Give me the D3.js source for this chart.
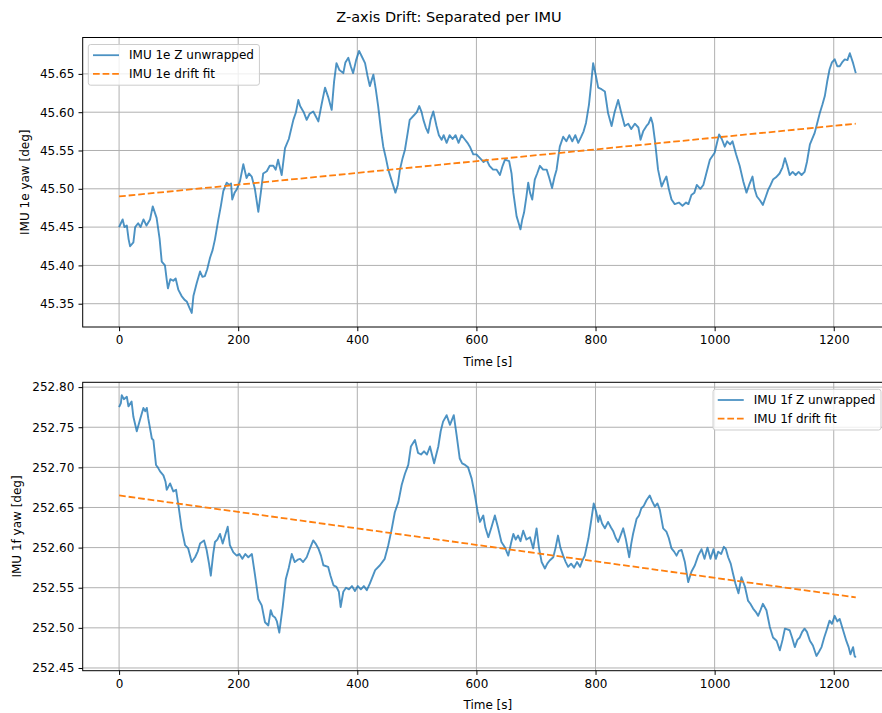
<!DOCTYPE html>
<html>
<head>
<meta charset="utf-8">
<script src="https://cdn.jsdelivr.net/npm/d3@7"></script>
<style>
  body { margin: 0; background: #fff; }
  svg { font-family: "DejaVu Sans", sans-serif; display: block; }
</style>
</head>
<body>
<div id="chart"></div>
<script>
// IMU 1e
const time1e = [0,3,6,9,13,16,18.5,24,27,32,36,41,46,52,56.5,63,68,71.6,77,80,82,86,91,95,99.6,105,110,113.6,118,122,124.8,130.4,136,140,144,148,152.7,157,161,166.7,171,175,180.7,185,188,190,194,197.5,203,208.6,214,218,222.7,228,233.8,238,242,248,253,259,263,267,273,278.6,285,292.6,297,301,304,310,315,320,326,330,334.6,340,345.8,351,357,361,365,370,376.5,380,384.9,389,393,398,403,408,413,417,421,427,431,435,440,443.6,448,452,458,464,468,471.6,476,480,485,488,494,500,504,508,511,515,519,523,527.6,533,537,541.6,545,550,555,560,565,570,575,580,585,589,594.7,600,606,612,617,622,628,634,639.5,644,648,655,659,662,667.5,671,674,677,680,684,687,690,693.7,698,702,706.6,712,718,722,727,731,734.6,740,745.7,751,756,761,766,771,776,780,784,789,793,796,800,804.5,810,815.7,821,827,832,838,843,849,855,860,866,872,875.6,880,885.6,889,893,896,899.6,905,911,915,919,923,927.6,933,940,946,952,956,961,966,970,976,981,986,992,1000,1004,1007.5,1012,1017,1021,1026,1030,1036,1042,1048,1053.5,1058,1063.6,1067,1071,1076,1081,1086,1090,1094,1098,1103,1109,1114,1118,1122,1126,1131,1136,1141,1146,1151,1155,1160,1168,1172,1176.6,1181,1185,1189,1193,1197,1201.6,1206,1210,1214,1218.5,1223,1227,1232.5,1237]
const yaw1e = [45.450,45.455,45.460,45.450,45.452,45.434,45.425,45.430,45.450,45.455,45.450,45.460,45.452,45.460,45.477,45.462,45.435,45.405,45.400,45.381,45.370,45.382,45.380,45.383,45.368,45.360,45.355,45.353,45.345,45.338,45.360,45.377,45.392,45.385,45.386,45.395,45.410,45.420,45.434,45.460,45.478,45.497,45.508,45.505,45.507,45.486,45.495,45.499,45.510,45.532,45.514,45.520,45.516,45.500,45.470,45.495,45.520,45.523,45.530,45.530,45.525,45.538,45.518,45.553,45.565,45.590,45.600,45.616,45.608,45.600,45.590,45.598,45.601,45.595,45.588,45.610,45.632,45.620,45.603,45.640,45.664,45.655,45.651,45.665,45.671,45.660,45.651,45.668,45.680,45.672,45.664,45.648,45.634,45.649,45.630,45.608,45.575,45.555,45.540,45.525,45.510,45.495,45.505,45.525,45.540,45.551,45.575,45.590,45.595,45.600,45.608,45.600,45.590,45.580,45.573,45.590,45.601,45.582,45.570,45.564,45.570,45.560,45.570,45.565,45.570,45.560,45.570,45.565,45.560,45.555,45.545,45.545,45.540,45.535,45.538,45.530,45.525,45.525,45.518,45.530,45.538,45.536,45.520,45.495,45.464,45.455,45.447,45.460,45.469,45.490,45.508,45.495,45.486,45.512,45.520,45.530,45.525,45.525,45.515,45.501,45.515,45.525,45.555,45.568,45.562,45.570,45.562,45.570,45.560,45.568,45.575,45.586,45.610,45.640,45.664,45.650,45.632,45.630,45.627,45.599,45.582,45.600,45.616,45.600,45.582,45.585,45.578,45.585,45.580,45.564,45.575,45.582,45.585,45.593,45.585,45.564,45.525,45.503,45.510,45.516,45.500,45.486,45.480,45.482,45.478,45.482,45.480,45.492,45.495,45.505,45.500,45.505,45.520,45.538,45.547,45.560,45.571,45.565,45.555,45.562,45.558,45.562,45.545,45.530,45.510,45.495,45.505,45.516,45.500,45.490,45.485,45.479,45.490,45.499,45.505,45.512,45.515,45.520,45.528,45.540,45.530,45.518,45.522,45.518,45.522,45.518,45.522,45.535,45.558,45.573,45.585,45.599,45.610,45.621,45.640,45.656,45.665,45.669,45.660,45.660,45.665,45.669,45.668,45.677,45.664,45.651]

// IMU 1f
const time1f = [0,3,4.5,8,13,15.7,21,24,29.7,35,40.8,44,46.5,49,55,57.6,62,65,68.8,74.4,78,80,85.6,91,95.7,99.6,105,110.8,116,122,127.6,132,136,142.7,147,151,154,158,161,165,169.5,174,178,182.4,186,191.9,197.5,202,207,212,217,223,228,233.8,239.5,245,250.6,254.6,258,261.8,265,269,274.7,280,285,290,295,300,304,309,315,320,326,330,334.6,339,343,351,355,360,365,369,372,376.5,381,386,391,396,401,406,411,416,421,430,438,446,452,458,463,469,474.5,480,485.6,490,496.8,502,507,512,517,522,529,536,540,544,550,555.6,562,566.8,572,576,581,586,592,597.5,602,606,611.5,615,620,625.5,631,636.6,642,648,653.5,658,662,666,670,674,678.6,684,690,695.4,701,705,709.5,715,719,723,729,733,737,741,745.6,750,754,759,764,769,774,778,782,788,793,797,801,804.5,807,811,815.7,821,826,830,834,838,842,846.5,851,856.6,860,863,869,873,877,881,885.6,891,895,899.6,904,908,913.6,919,923,927.6,932,936,940,944.5,950,955.6,961,966.8,972.4,978,983,988,993,998,1002,1006,1011,1015.5,1019,1022.7,1027,1031,1035,1040,1045,1051,1056,1060,1064.6,1069,1073,1077,1081,1087,1092.7,1098,1104,1109.5,1114,1118,1122,1126,1130,1134.6,1139,1143,1147,1151,1155,1160,1165,1171,1175,1179.5,1184,1188,1193,1197,1201.6,1206,1210,1215.7,1221,1225,1228,1232.5,1235,1237]
const yaw1f = [252.775,252.780,252.790,252.785,252.788,252.776,252.782,252.763,252.745,252.759,252.774,252.770,252.774,252.761,252.736,252.734,252.703,252.700,252.695,252.690,252.682,252.672,252.680,252.670,252.672,252.653,252.624,252.603,252.599,252.582,252.588,252.595,252.605,252.609,252.597,252.580,252.565,252.592,252.607,252.610,252.617,252.605,252.615,252.626,252.603,252.594,252.590,252.592,252.586,252.592,252.588,252.592,252.567,252.536,252.528,252.507,252.503,252.522,252.515,252.513,252.508,252.494,252.526,252.561,252.575,252.592,252.582,252.585,252.586,252.582,252.588,252.598,252.609,252.605,252.599,252.590,252.578,252.576,252.565,252.553,252.551,252.545,252.526,252.545,252.550,252.548,252.552,252.546,252.552,252.548,252.552,252.547,252.555,252.572,252.578,252.586,252.603,252.624,252.644,252.657,252.678,252.692,252.703,252.726,252.734,252.718,252.716,252.720,252.716,252.726,252.705,252.726,252.745,252.757,252.765,252.753,252.765,252.740,252.711,252.705,252.703,252.700,252.686,252.665,252.645,252.632,252.640,252.625,252.613,252.626,252.640,252.624,252.607,252.600,252.590,252.605,252.617,252.610,252.615,252.608,252.621,252.610,252.613,252.599,252.624,252.600,252.582,252.574,252.580,252.584,252.588,252.600,252.615,252.600,252.590,252.582,252.576,252.580,252.575,252.582,252.576,252.584,252.590,252.611,252.635,252.655,252.645,252.632,252.640,252.630,252.624,252.632,252.625,252.620,252.612,252.607,252.615,252.624,252.610,252.588,252.605,252.617,252.636,252.640,252.649,252.652,252.659,252.665,252.658,252.651,252.655,252.647,252.624,252.620,252.612,252.599,252.595,252.590,252.596,252.597,252.582,252.557,252.570,252.578,252.590,252.598,252.586,252.600,252.586,252.598,252.586,252.595,252.592,252.601,252.598,252.588,252.580,252.567,252.555,252.543,252.563,252.551,252.534,252.530,252.524,252.520,252.515,252.522,252.530,252.522,252.501,252.488,252.484,252.472,252.485,252.499,252.498,252.497,252.488,252.476,252.485,252.488,252.495,252.499,252.495,252.484,252.478,252.465,252.470,252.476,252.488,252.497,252.509,252.505,252.515,252.508,252.511,252.497,252.484,252.476,252.467,252.476,252.465,252.463]

// linear drift fits (start / end)
const fitTime = [0, 1237]
const fit1e = [45.490, 45.585]
const fit1f = [252.665, 252.538]

const xTicks = [0, 200, 400, 600, 800, 1000, 1200]
const yTicks1e = [45.35, 45.40, 45.45, 45.50, 45.55, 45.60, 45.65]
const yTicks1f = [252.45, 252.50, 252.55, 252.60, 252.65, 252.70, 252.75, 252.80]

const width = 882, height = 713
const axLeft = 82.7, axRight = 893

const svg = d3.select("#chart").append("svg")
    .attr("width", width)
    .attr("height", height)

svg.append("text")
    .attr("x", 449)
    .attr("y", 22)
    .attr("text-anchor", "middle")
    .attr("font-size", 14.5)
    .attr("fill", "#000")
    .text("Z-axis Drift: Separated per IMU")

var x = d3.scaleLinear().domain([-61.1, 1299.5]).range([axLeft, axRight])

function drawPanel(cfg) {
    var y = d3.scaleLinear().domain(cfg.yDomain).range([cfg.bottom, cfg.top])
    var g = svg.append("g")

    g.append("clipPath").attr("id", cfg.id)
        .append("rect")
        .attr("x", axLeft).attr("y", cfg.top)
        .attr("width", axRight - axLeft).attr("height", cfg.bottom - cfg.top)

    // grid
    g.selectAll(".vgrid").data(xTicks).join("line")
        .attr("x1", d => x(d)).attr("x2", d => x(d))
        .attr("y1", cfg.top).attr("y2", cfg.bottom)
        .attr("stroke", "#b0b0b0").attr("stroke-width", 1)
    g.selectAll(".hgrid").data(cfg.yTicks).join("line")
        .attr("x1", axLeft).attr("x2", axRight)
        .attr("y1", d => y(d)).attr("y2", d => y(d))
        .attr("stroke", "#b0b0b0").attr("stroke-width", 1)

    var pts = cfg.t.map((t, i) => [t, cfg.v[i]])
    var line = d3.line().x(d => x(d[0])).y(d => y(d[1]))

    var plot = g.append("g").attr("clip-path", "url(#" + cfg.id + ")")
    plot.append("path")
        .datum(pts)
        .attr("d", line)
        .attr("fill", "none")
        .attr("stroke", "#1f77b4")
        .attr("stroke-opacity", 0.8)
        .attr("stroke-width", 1.9)
        .attr("stroke-linejoin", "round")

    plot.append("path")
        .datum(fitTime.map((t, i) => [t, cfg.fit[i]]))
        .attr("d", line)
        .attr("fill", "none")
        .attr("stroke", "#ff7f0e")
        .attr("stroke-width", 1.8)
        .attr("stroke-dasharray", "6.7,2.9")

    // spines
    g.append("rect")
        .attr("x", axLeft).attr("y", cfg.top)
        .attr("width", axRight - axLeft).attr("height", cfg.bottom - cfg.top)
        .attr("fill", "none").attr("stroke", "#000").attr("stroke-width", 1)

    var xAxis = g.append("g")
        .attr("transform", "translate(0," + cfg.bottom + ")")
        .call(d3.axisBottom(x).tickValues(xTicks).tickFormat(d3.format("d"))
            .tickSize(4.2).tickPadding(4.2))
    var yAxis = g.append("g")
        .attr("transform", "translate(" + axLeft + ",0)")
        .call(d3.axisLeft(y).tickValues(cfg.yTicks).tickFormat(d3.format(".2f"))
            .tickSize(4.2).tickPadding(4.2))
    ;[xAxis, yAxis].forEach(a => {
        a.select(".domain").remove()
        a.selectAll("text").attr("font-size", 12).attr("fill", "#000")
            .attr("font-family", "DejaVu Sans")
        a.selectAll("line").attr("stroke", "#000")
    })

    g.append("text")
        .attr("x", (axLeft + axRight) / 2)
        .attr("y", cfg.bottom + 38.5)
        .attr("text-anchor", "middle")
        .attr("font-size", 12)
        .text("Time [s]")

    g.append("text")
        .attr("transform", "translate(" + cfg.ylabelX + "," + (cfg.top + cfg.bottom) / 2 + ") rotate(-90)")
        .attr("dy", "0.35em")
        .attr("text-anchor", "middle")
        .attr("font-size", 12)
        .text(cfg.ylabel)

    // legend
    var lg = g.append("g")
    var box = lg.append("rect")
        .attr("rx", 2.4).attr("ry", 2.4)
        .attr("fill", "#fff").attr("fill-opacity", 0.8)
        .attr("stroke", "#cccccc").attr("stroke-width", 1)
    var rows = [
        { label: cfg.names[0], color: "#1f77b4", op: 0.8, dash: null },
        { label: cfg.names[1], color: "#ff7f0e", op: 1, dash: "6.7,2.9" }
    ]
    var maxW = 0
    rows.forEach((r, i) => {
        var cy = 10.7 + i * 18.6
        lg.append("line")
            .attr("x1", 4.7).attr("x2", 30.7)
            .attr("y1", cy).attr("y2", cy)
            .attr("stroke", r.color).attr("stroke-opacity", r.op)
            .attr("stroke-width", 1.8)
            .attr("stroke-dasharray", r.dash)
        var t = lg.append("text")
            .attr("x", 40.7).attr("y", cy)
            .attr("dy", "0.35em")
            .attr("font-size", 12)
            .text(r.label)
        maxW = Math.max(maxW, t.node().getComputedTextLength())
    })
    var bw = 40.7 + maxW + 5.5
    box.attr("width", bw).attr("height", 40.7)
    var lx = cfg.legendRight ? axRight - 12 - bw : axLeft + 5.6
    lg.attr("transform", "translate(" + lx + "," + (cfg.top + 7) + ")")
}

drawPanel({
    id: "clip1e", top: 37.5, bottom: 327,
    yDomain: [45.3196, 45.6975], yTicks: yTicks1e,
    t: time1e, v: yaw1e, fit: fit1e,
    ylabel: "IMU 1e yaw [deg]", ylabelX: 24.5,
    names: ["IMU 1e Z unwrapped", "IMU 1e drift fit"], legendRight: false
})

drawPanel({
    id: "clip1f", top: 382.3, bottom: 670.7,
    yDomain: [252.4466, 252.806], yTicks: yTicks1f,
    t: time1f, v: yaw1f, fit: fit1f,
    ylabel: "IMU 1f yaw [deg]", ylabelX: 16.5,
    names: ["IMU 1f Z unwrapped", "IMU 1f drift fit"], legendRight: true
})
</script>
</body>
</html>
